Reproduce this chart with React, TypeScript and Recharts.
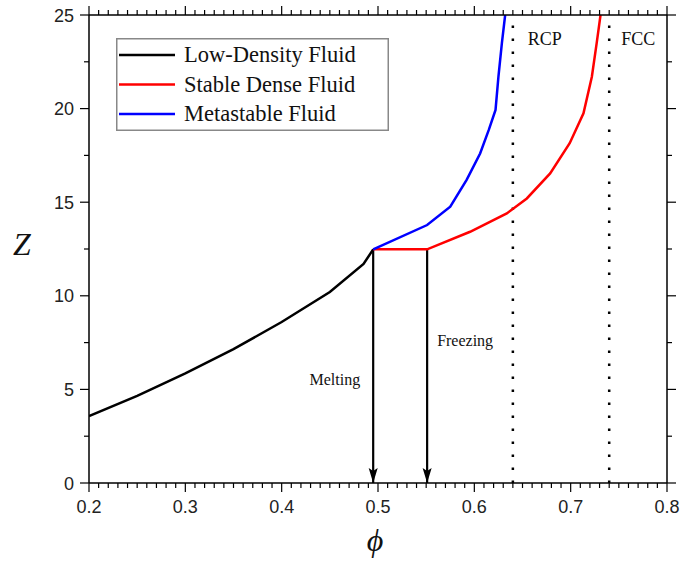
import { LineChart, Line, XAxis, YAxis, ReferenceLine, ReferenceDot, Legend } from 'recharts'

// low-density fluid branch
const phiLow = [0.2, 0.25, 0.3, 0.35, 0.4, 0.45, 0.485, 0.495]
const zLow = [3.58, 4.65, 5.85, 7.15, 8.6, 10.2, 11.7, 12.48]

// stable dense fluid (flat coexistence part first)
const phiStable = [0.495, 0.551, 0.5956, 0.6337, 0.6545, 0.6787, 0.699, 0.7133, 0.722, 0.727, 0.731]
const zStable = [12.48, 12.48, 13.42, 14.4, 15.2, 16.54, 18.15, 19.75, 21.7, 23.5, 25]

// metastable fluid
const phiMeta = [0.495, 0.551, 0.575, 0.592, 0.606, 0.615, 0.622, 0.625, 0.6286, 0.632]
const zMeta = [12.48, 13.78, 14.76, 16.19, 17.6, 18.86, 19.93, 21.7, 23.5, 25]

const phiMelting = 0.495
const phiFreezing = 0.551
const zCoexist = 12.48

const phiRCP = 0.64
const phiFCC = 0.74

const xTicks = Array.from({ length: 61 }, (_, i) => +(0.2 + i * 0.01).toFixed(2))
const yTicks = [0, 2.5, 5, 7.5, 10, 12.5, 15, 17.5, 20, 22.5, 25]

const SERIF = '"Liberation Serif", "Times New Roman", serif'
const SANS = '"Liberation Sans", Arial, sans-serif'

const toPoints = (xs: number[], ys: number[]) => xs.map((phi, i) => ({ phi, z: ys[i] }))

const series = [
  { name: 'Low-Density Fluid', color: '#000000', data: toPoints(phiLow, zLow) },
  { name: 'Stable Dense Fluid', color: '#ff0000', data: toPoints(phiStable, zStable) },
  { name: 'Metastable Fluid', color: '#0000ff', data: toPoints(phiMeta, zMeta) }
]

const meltingArrow = toPoints([phiMelting, phiMelting], [zCoexist, 0])
const freezingArrow = toPoints([phiFreezing, phiFreezing], [zCoexist, 0])

const isMajorX = (v: number) => Math.abs(v * 10 - Math.round(v * 10)) < 1e-6
const isMajorY = (v: number) => v % 5 === 0

function BottomTick({ x, y, payload }: any) {
  const major = isMajorX(payload.value)
  return (
    <g>
      <line x1={x} x2={x} y1={y} y2={y + (major ? 9 : 5)} stroke="#000" strokeWidth={1.2} />
      {major && (
        <text x={x} y={y + 30} textAnchor="middle" fontFamily={SANS} fontSize={18} fill="#222">
          {payload.value.toFixed(1)}
        </text>
      )}
    </g>
  )
}

function TopTick({ x, y, payload }: any) {
  const major = isMajorX(payload.value)
  return <line x1={x} x2={x} y1={y} y2={y - (major ? 9 : 5)} stroke="#000" strokeWidth={1.2} />
}

function LeftTick({ x, y, payload }: any) {
  const major = isMajorY(payload.value)
  return (
    <g>
      <line x1={x} x2={x - (major ? 9 : 5)} y1={y} y2={y} stroke="#000" strokeWidth={1.2} />
      {major && (
        <text x={x - 15} y={y + 6.5} textAnchor="end" fontFamily={SANS} fontSize={18} fill="#222">
          {payload.value}
        </text>
      )}
    </g>
  )
}

function RightTick({ x, y, payload }: any) {
  const major = isMajorY(payload.value)
  return <line x1={x} x2={x + (major ? 9 : 5)} y1={y} y2={y} stroke="#000" strokeWidth={1.2} />
}

const arrowHead = (props: any) => {
  const { cx, cy, index } = props
  if (index !== 1) return <g key={`a-${index}`} />
  return (
    <path
      key={`a-${index}`}
      d={`M${cx},${cy} L${cx - 4.5},${cy - 15} L${cx},${cy - 12} L${cx + 4.5},${cy - 15} Z`}
      fill="#000"
    />
  )
}

const renderLegend = () => (
  <svg width={273} height={93} style={{ display: 'block' }}>
    <rect x={0.75} y={0.75} width={271.5} height={91.5} fill="#fff" stroke="#888" strokeWidth={1.5} />
    {series.map((s, i) => {
      const cy = 17 + i * 29.5
      return (
        <g key={s.name}>
          <line x1={3} x2={59} y1={cy} y2={cy} stroke={s.color} strokeWidth={2.5} />
          <text x={68} y={cy + 7} fontFamily={SERIF} fontSize={22.5} fill="#111">
            {s.name}
          </text>
        </g>
      )
    })}
  </svg>
)

const textLabel = (text: string, dx: number, dy: number, size: number, anchor = 'start') => (props: any) => {
  const vb = props.viewBox
  return (
    <text x={vb.x + dx} y={vb.y + dy} textAnchor={anchor} fontFamily={SERIF} fontSize={size} fill="#111">
      {text}
    </text>
  )
}

export default function App() {
  return (
    <div style={{ width: 682, height: 561, background: '#fff' }}>
      <style>{'body{margin:0}'}</style>
      <LineChart width={682} height={561} margin={{ top: 5, right: 5, bottom: 38, left: 49 }}>
        <XAxis
          dataKey="phi"
          type="number"
          domain={[0.2, 0.8]}
          ticks={xTicks}
          interval={0}
          allowDataOverflow
          height={40}
          tickSize={0}
          tickMargin={0}
          tick={<BottomTick />}
          axisLine={{ stroke: '#000', strokeWidth: 1.5 }}
          label={{
            content: (p: any) => (
              <text
                x={p.viewBox.x + p.viewBox.width / 2 - 3}
                y={p.viewBox.y + 68}
                textAnchor="middle"
                fontFamily={SERIF}
                fontStyle="italic"
                fontSize={32}
                fill="#111"
              >
                ϕ
              </text>
            )
          }}
        />
        <XAxis
          xAxisId="top"
          orientation="top"
          dataKey="phi"
          type="number"
          domain={[0.2, 0.8]}
          ticks={xTicks}
          interval={0}
          allowDataOverflow
          height={10}
          tickSize={0}
          tickMargin={0}
          tick={<TopTick />}
          axisLine={{ stroke: '#000', strokeWidth: 1.5 }}
        />
        <YAxis
          type="number"
          domain={[0, 25]}
          ticks={yTicks}
          interval={0}
          allowDataOverflow
          width={40}
          tickSize={0}
          tickMargin={0}
          tick={<LeftTick />}
          axisLine={{ stroke: '#000', strokeWidth: 1.5 }}
          label={{
            content: (p: any) => (
              <text
                x={p.viewBox.x + p.viewBox.width - 67}
                y={p.viewBox.y + p.viewBox.height / 2 + 6}
                textAnchor="middle"
                fontFamily={SERIF}
                fontStyle="italic"
                fontSize={32}
                fill="#111"
              >
                Z
              </text>
            )
          }}
        />
        <YAxis
          yAxisId="right"
          orientation="right"
          type="number"
          domain={[0, 25]}
          ticks={yTicks}
          interval={0}
          allowDataOverflow
          width={10}
          tickSize={0}
          tickMargin={0}
          tick={<RightTick />}
          axisLine={{ stroke: '#000', strokeWidth: 1.5 }}
        />
        <ReferenceLine
          x={phiRCP}
          stroke="#000"
          strokeWidth={2.5}
          strokeDasharray="2.5 10.5"
          label={textLabel('RCP', 15, 30, 18)}
        />
        <ReferenceLine
          x={phiFCC}
          stroke="#000"
          strokeWidth={2.5}
          strokeDasharray="2.5 10.5"
          label={textLabel('FCC', 12, 30, 18)}
        />
        <ReferenceDot x={phiMelting} y={5.2} r={1} fill="none" stroke="none" label={textLabel('Melting', -12, 0, 16, 'end')} />
        <ReferenceDot x={phiFreezing} y={7.27} r={1} fill="none" stroke="none" label={textLabel('Freezing', 11, 0, 16)} />
        {/* arrows live on the top/right axes (same domains) so those axes get their ticks */}
        <Line
          xAxisId="top"
          yAxisId="right"
          data={meltingArrow}
          dataKey="z"
          stroke="#000"
          strokeWidth={2.2}
          dot={arrowHead}
          activeDot={false}
          legendType="none"
          isAnimationActive={false}
        />
        <Line
          xAxisId="top"
          yAxisId="right"
          data={freezingArrow}
          dataKey="z"
          stroke="#000"
          strokeWidth={2.2}
          dot={arrowHead}
          activeDot={false}
          legendType="none"
          isAnimationActive={false}
        />
        {series.map((s) => (
          <Line
            key={s.name}
            name={s.name}
            data={s.data}
            dataKey="z"
            type="linear"
            stroke={s.color}
            strokeWidth={2.5}
            dot={false}
            activeDot={false}
            isAnimationActive={false}
          />
        ))}
        <Legend
          layout="horizontal"
          verticalAlign="middle"
          align="center"
          content={renderLegend}
          wrapperStyle={{ left: 116, top: 38, width: 273, height: 93 }}
        />
      </LineChart>
    </div>
  )
}
